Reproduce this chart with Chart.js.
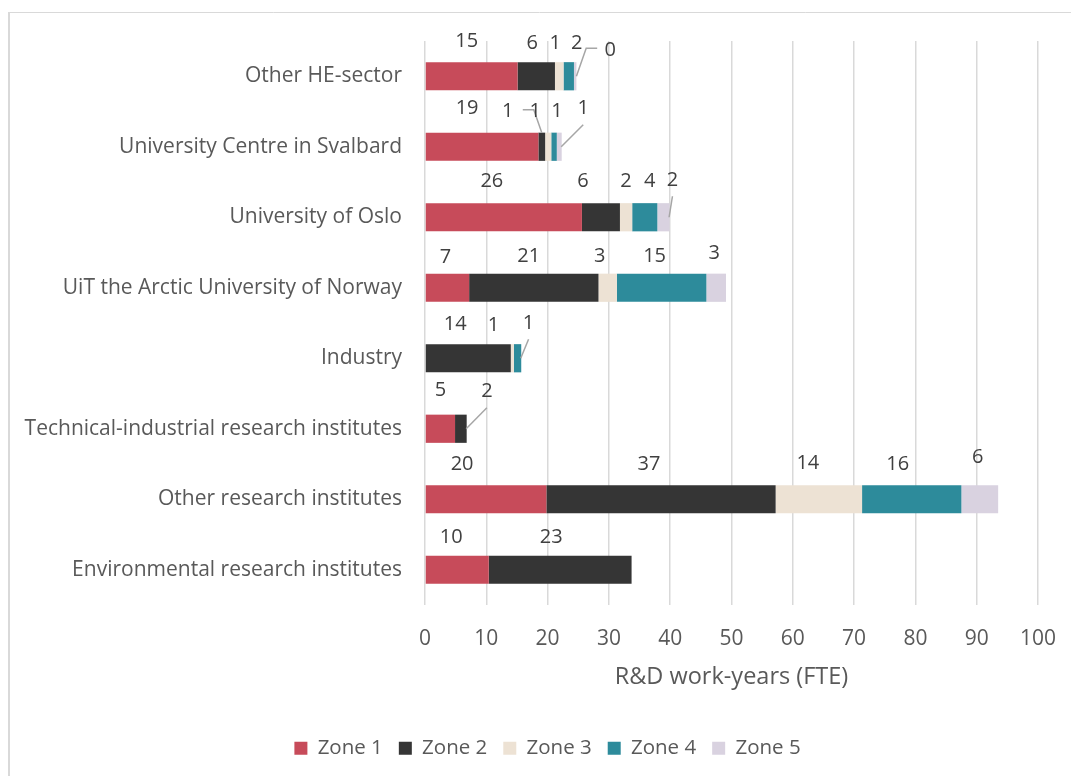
<!DOCTYPE html>
<html lang="en">
<head>
  <meta charset="UTF-8">
  <title>R&amp;D work-years by zone</title>
  <script src="https://cdn.jsdelivr.net/npm/chart.js"></script>
  <style>
    body { margin: 0; background: #fff; }
    canvas { display: block; }
  </style>
</head>
<body>
<canvas id="zoneChart" width="1071" height="776"></canvas>

<script>
  const categories = [
    'Other HE-sector',
    'University Centre in Svalbard',
    'University of Oslo',
    'UiT the Arctic University of Norway',
    'Industry',
    'Technical-industrial research institutes',
    'Other research institutes',
    'Environmental research institutes'
  ];
  const zoneNames = ['Zone 1', 'Zone 2', 'Zone 3', 'Zone 4', 'Zone 5'];
  const zone1 = [15.1, 18.5, 25.6, 7.2, null, 4.9, 19.8, 10.4];
  const zone2 = [6.1, 1.1, 6.2, 21.1, 14.0, 1.9, 37.4, 23.3];
  const zone3 = [1.4, 1.0, 2.0, 3.0, 0.5, null, 14.1, null];
  const zone4 = [1.7, 0.9, 4.1, 14.6, 1.2, null, 16.2, null];
  const zone5 = [0.4, 0.8, 2.0, 3.2, null, null, 6.0, null];
  const xTicks = [0, 10, 20, 30, 40, 50, 60, 70, 80, 90, 100];

  const zoneColors = ['#C74B5A', '#353535', '#EDE2D4', '#2D8B9B', '#D9D2E0'];

  // label nudges (px) relative to segment centre / bar centre, per category then zone
  const labelDx = [
    [-5, -4, -4, 8, 35],
    [-15, -34, -13, 3, 24],
    [-12, -18, 0, 5, 9],
    [-2, -5, -8, -7, -2],
    [0, -13, -19, 11, 0],
    [0, 26, 0, 0, 0],
    [-24, -12, -11, -14, -2],
    [-6, -9, 0, 0, 0]
  ];
  const labelDy = [
    [-35, -33, -33, -33, -26],
    [-38, -35, -35, -35, -38],
    [-36, -36, -36, -36, -37],
    [-30, -31, -31, -31, -34],
    [-34, -34, -33, -35, -34],
    [-38, -37, -37, -37, -37],
    [-35, -35, -36, -35, -42],
    [-32, -32, -32, -32, -32]
  ];
  // leader lines: [category, zone, kind]
  const leaders = [
    [0, 4, 'elbowLeft'],
    [1, 1, 'elbowRight'],
    [1, 4, 'below'],
    [2, 4, 'below'],
    [4, 3, 'below'],
    [5, 1, 'below']
  ];

  Chart.defaults.font.family = "'Open Sans', 'Noto Sans', sans-serif";
  Chart.defaults.color = '#595959';

  const seriesValues = [zone1, zone2, zone3, zone4, zone5];

  const frame = {
    id: 'frame',
    beforeDraw(chart) {
      const c = chart.ctx;
      c.save();
      c.strokeStyle = '#d9d9d9';
      c.lineWidth = 2;
      c.beginPath();
      c.moveTo(9, 12);
      c.lineTo(9, chart.height);
      c.stroke();
      c.lineWidth = 1;
      c.beginPath();
      c.moveTo(8, 12.5);
      c.lineTo(chart.width, 12.5);
      c.stroke();
      c.restore();
    }
  };

  const segmentLabels = {
    id: 'segmentLabels',
    afterDatasetsDraw(chart) {
      const c = chart.ctx;
      c.save();
      c.font = "20px 'Open Sans', sans-serif";
      c.fillStyle = '#404040';
      c.textAlign = 'center';
      c.textBaseline = 'middle';
      c.strokeStyle = '#a6a6a6';
      c.lineWidth = 1.5;
      chart.data.datasets.forEach((ds, zi) => {
        const meta = chart.getDatasetMeta(zi);
        meta.data.forEach((bar, ci) => {
          const v = ds.data[ci];
          if (v === null || v === undefined) return;
          const left = Math.min(bar.x, bar.base);
          const right = Math.max(bar.x, bar.base);
          const mid = (left + right) / 2;
          const lx = mid + labelDx[ci][zi];
          const ly = bar.y + labelDy[ci][zi];
          c.fillText(String(Math.round(v)), lx, ly);

          const ld = leaders.find(l => l[0] === ci && l[1] === zi);
          if (!ld) return;
          c.beginPath();
          if (ld[2] === 'below') {
            c.moveTo(lx, ly + 16);
            c.lineTo(right - 0.5, bar.y);
          } else if (ld[2] === 'elbowLeft') {
            c.moveTo(lx - 13, ly - 2);
            c.lineTo(lx - 24, ly - 2);
            c.lineTo(right, bar.y);
          } else {
            c.moveTo(lx + 15, ly - 2);
            c.lineTo(lx + 26, ly - 2);
            c.lineTo(mid, bar.y - bar.height / 2);
          }
          c.stroke();
        });
      });
      c.restore();
    }
  };

  const ctx = document.getElementById('zoneChart').getContext('2d');

  const zoneChart = new Chart(ctx, {
    type: 'bar',
    data: {
      labels: categories,
      datasets: zoneNames.map((name, i) => ({
        label: name,
        data: seriesValues[i],
        backgroundColor: zoneColors[i],
        borderWidth: 0,
        barPercentage: 0.4,
        categoryPercentage: 1.0
      }))
    },
    options: {
      indexAxis: 'y',
      responsive: false,
      animation: false,
      layout: {
        padding: { top: 41, left: 24, right: 0, bottom: 7.5 }
      },
      plugins: {
        legend: {
          position: 'bottom',
          labels: {
            boxWidth: 13,
            boxHeight: 13,
            padding: 16,
            color: '#595959',
            font: { size: 20.5 }
          }
        },
        tooltip: { enabled: false }
      },
      scales: {
        x: {
          stacked: true,
          min: 0,
          max: 100,
          afterBuildTicks: s => { s.ticks = xTicks.map(v => ({ value: v })); },
          grid: { color: '#d9d9d9', lineWidth: 1.5, drawTicks: false },
          border: { display: false },
          ticks: { padding: 21, color: '#595959', font: { size: 21 } },
          title: {
            display: true,
            text: 'R&D work-years (FTE)',
            color: '#595959',
            font: { size: 23.5 },
            padding: { top: 0, bottom: 30.5 }
          },
          afterFit: s => {
            s.height = 117;
            s.paddingLeft = 0;
            s.paddingRight = 0;
          }
        },
        y: {
          stacked: true,
          grid: { display: false, drawTicks: false },
          border: { display: false },
          ticks: { padding: 23, color: '#595959', font: { size: 21 } },
          afterFit: s => { s.width = 401; }
        },
        y2: {
          position: 'right',
          grid: { display: false, drawTicks: false },
          border: { display: false },
          ticks: { display: false },
          afterFit: s => { s.width = 33; }
        }
      }
    },
    plugins: [frame, segmentLabels]
  });
</script>
</body>
</html>
